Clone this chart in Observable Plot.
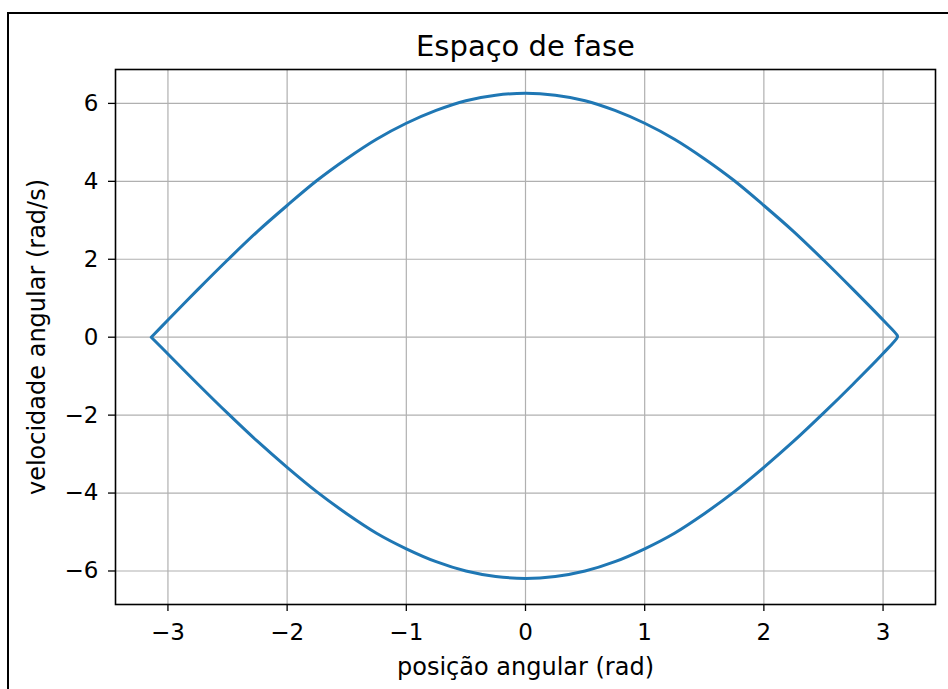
<!DOCTYPE html>
<html>
<head>
<meta charset="utf-8">
<script src="https://cdn.jsdelivr.net/npm/d3@7"></script>
<script src="https://cdn.jsdelivr.net/npm/@observablehq/plot@0.6"></script>
<style>
  html, body { margin: 0; padding: 0; background: #fff; overflow: hidden; }
  #wrap { position: relative; width: 948px; height: 689px; }
  #border { position: absolute; left: 7px; top: 12px; width: 2000px; height: 2000px;
            border-left: 2px solid #000; border-top: 2px solid #000; pointer-events: none; }
</style>
</head>
<body>
<div id="wrap"><div id="border"></div></div>
<script>
// Values
const title = "Espaço de fase";
const xLabel = "posição angular (rad)";
const yLabel = "velocidade angular (rad/s)";
const xTicks = [-3, -2, -1, 0, 1, 2, 3];
const yTicks = [-6, -4, -2, 0, 2, 4, 6];

// angular position (rad) along the upper branch (left to right)
const posSup = [-3.14, -3.0, -2.75, -2.5, -2.25, -2.0, -1.75, -1.5, -1.25, -1.0, -0.75, -0.5, -0.25, 0,
                0.25, 0.5, 0.75, 1.0, 1.25, 1.5, 1.75, 2.0, 2.25, 2.5, 2.75, 3.0, 3.12];
const velSup = [0.0, 0.44, 1.22, 1.98, 2.71, 3.38, 4.02, 4.58, 5.08, 5.49, 5.82, 6.07, 6.21, 6.26,
                6.21, 6.07, 5.82, 5.49, 5.08, 4.58, 4.02, 3.38, 2.71, 1.98, 1.22, 0.44, 0.04];
// angular position (rad) along the lower branch (right to left)
const posInf = [3.12, 3.0, 2.75, 2.5, 2.25, 2.0, 1.75, 1.5, 1.25, 1.0, 0.75, 0.5, 0.25, 0,
                -0.25, -0.5, -0.75, -1.0, -1.25, -1.5, -1.75, -2.0, -2.25, -2.5, -2.75, -3.0, -3.14];
const velInf = [0.0, -0.42, -1.20, -1.95, -2.67, -3.34, -3.97, -4.53, -5.03, -5.43, -5.76, -6.00, -6.14, -6.19,
                -6.14, -6.00, -5.76, -5.43, -5.03, -4.53, -3.97, -3.34, -2.67, -1.95, -1.20, -0.43, 0.0];

const curve = [
  ...posSup.map((x, i) => ({x, y: velSup[i]})),
  ...posInf.map((x, i) => ({x, y: velInf[i]}))
];

const font = "DejaVu Sans, sans-serif";
const fmt = d => (d < 0 ? "\u2212" : "") + Math.abs(d);

const chart = Plot.plot({
  width: 948,
  height: 689,
  marginLeft: 115,
  marginRight: 13,
  marginTop: 69,
  marginBottom: 85,
  style: {fontFamily: font, background: "transparent", color: "#000"},
  x: {domain: [-3.44, 3.44]},
  y: {domain: [-6.86, 6.87]},
  marks: [
    Plot.gridX(xTicks, {stroke: "#b0b0b0", strokeOpacity: 1, strokeWidth: 1.2}),
    Plot.gridY(yTicks, {stroke: "#b0b0b0", strokeOpacity: 1, strokeWidth: 1.2}),
    Plot.line(curve, {x: "x", y: "y", stroke: "#1f77b4", strokeWidth: 3, curve: "catmull-rom"}),
    Plot.frame({stroke: "#000", strokeWidth: 1.6}),
    Plot.axisX(xTicks, {tickSize: 7, tickPadding: 12, fontSize: 23, label: null, strokeWidth: 1.3, tickFormat: fmt}),
    Plot.axisY(yTicks, {tickSize: 7, tickPadding: 10, fontSize: 23, label: null, strokeWidth: 1.3, tickFormat: fmt}),
    Plot.text([title], {frameAnchor: "top", dy: -14, lineAnchor: "bottom", fontSize: 29, fill: "#000"}),
    Plot.text([xLabel], {frameAnchor: "bottom", dy: 63, lineAnchor: "middle", fontSize: 24, fill: "#000"}),
    Plot.text([yLabel], {frameAnchor: "left", dx: -78, rotate: -90, textAnchor: "middle", lineAnchor: "middle", fontSize: 24, fill: "#000"})
  ]
});
chart.style.position = "absolute";
chart.style.left = "0";
chart.style.top = "0";
document.getElementById("wrap").prepend(chart);
</script>
</body>
</html>
